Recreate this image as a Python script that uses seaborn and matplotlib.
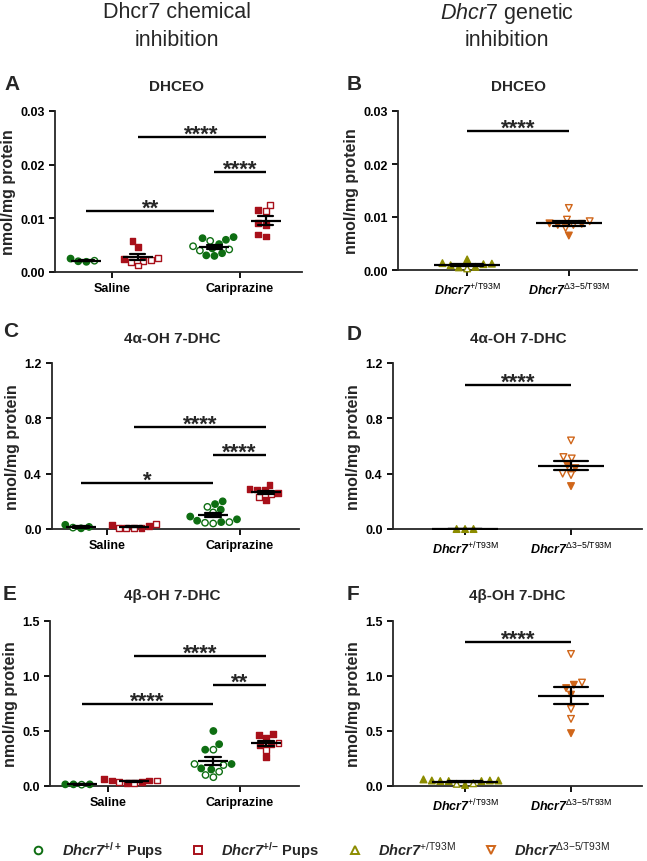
import pandas as pd
import seaborn as sns
import matplotlib.pyplot as plt
from matplotlib.lines import Line2D
from matplotlib.ticker import FormatStrFormatter

#Estilo geral
sns.set_style("ticks")
plt.rcParams['font.family'] = ['Liberation Sans', 'DejaVu Sans']
plt.rcParams['mathtext.fontset'] = 'custom'
plt.rcParams['mathtext.rm'] = 'Liberation Sans'
plt.rcParams['mathtext.it'] = 'Liberation Sans:italic'
plt.rcParams['mathtext.bf'] = 'Liberation Sans:bold'
try:
    plt.rcParams['mathtext.bfit'] = 'Liberation Sans:italic:bold'
except KeyError:
    pass
plt.rcParams['axes.linewidth'] = 1.3

VERDE = '#0e6e12'
VERMELHO = '#a8101a'
OLIVA = '#8c8c00'
LARANJA = '#d0661a'

tratamentos = ['Saline', 'Cariprazine']
pups = ['wt', 'het']
genotipos = ['T93M', 'D35']
rotulos_gen = [r'$\mathbfit{Dhcr7}^{\mathrm{+/T93M}}$',
               r'$\mathbfit{Dhcr7}^{\mathrm{\Delta 3{-}5/T93M}}$']

#Dados (cheio = simbolo preenchido, vazio = aberto)
#DHCEO - inibicao quimica
dhceo_sal_wt_cheio = [0.0019, 0.0025, 0.0020]
dhceo_sal_wt_vazio = [0.0021]
dhceo_sal_het_cheio = [0.0057, 0.0047, 0.0025]
dhceo_sal_het_vazio = [0.0021, 0.0026, 0.0012, 0.0018, 0.0022]
dhceo_car_wt_cheio = [0.0065, 0.0063, 0.0060, 0.0052, 0.0044, 0.0035, 0.0030, 0.0031]
dhceo_car_wt_vazio = [0.0058, 0.0048, 0.0042, 0.0040]
dhceo_car_het_cheio = [0.0115, 0.0091, 0.0070, 0.0066, 0.0088]
dhceo_car_het_vazio = [0.0125, 0.0114]

#DHCEO - inibicao genetica
dhceo_t93m_cheio = [0.0005, 0.0012, 0.0009, 0.0006, 0.0020, 0.0011, 0.0013]
dhceo_t93m_vazio = [0.0003]
dhceo_d35_cheio = [0.0088, 0.0065, 0.0085, 0.0087]
dhceo_d35_vazio = [0.0117, 0.0092, 0.0095, 0.0085, 0.0079]

#4a-OH 7-DHC - quimica
alfa_sal_wt_cheio = [0.030, 0.015, 0.005]
alfa_sal_wt_vazio = [0.010]
alfa_sal_het_cheio = [0.030, 0.020, 0.010]
alfa_sal_het_vazio = [0.035, 0.010, 0.005, 0.005]
alfa_car_wt_cheio = [0.20, 0.18, 0.14, 0.09, 0.07, 0.06, 0.05]
alfa_car_wt_vazio = [0.16, 0.12, 0.05, 0.04, 0.045]
alfa_car_het_cheio = [0.32, 0.29, 0.285, 0.28, 0.21, 0.26]
alfa_car_het_vazio = [0.23, 0.25]

#4a-OH 7-DHC - genetica
alfa_t93m_cheio = [0.0, 0.0, 0.0]
alfa_t93m_vazio = []
alfa_d35_cheio = [0.44, 0.46, 0.31]
alfa_d35_vazio = [0.64, 0.51, 0.52, 0.39, 0.40]

#4b-OH 7-DHC - quimica
beta_sal_wt_cheio = [0.015, 0.015, 0.015]
beta_sal_wt_vazio = [0.012]
beta_sal_het_cheio = [0.06, 0.05, 0.04, 0.05, 0.03]
beta_sal_het_vazio = [0.04, 0.03, 0.05]
beta_car_wt_cheio = [0.50, 0.38, 0.33, 0.20, 0.15, 0.16]
beta_car_wt_vazio = [0.33, 0.20, 0.19, 0.13, 0.08, 0.10]
beta_car_het_cheio = [0.46, 0.44, 0.47, 0.37, 0.26, 0.38]
beta_car_het_vazio = [0.39, 0.33]

#4b-OH 7-DHC - genetica
beta_t93m_cheio = [0.045, 0.06, 0.045, 0.05, 0.01, 0.05, 0.045, 0.05]
beta_t93m_vazio = [0.025, 0.02]
beta_d35_cheio = [0.92, 0.89, 0.83, 0.48]
beta_d35_vazio = [1.20, 0.94, 0.70, 0.61]

#Barras de significancia (x1, x2, altura, texto)
sig_dhceo_q = [(-0.2, 0.8, 0.0114, '**'), (0.2, 1.2, 0.0251, '****'), (0.8, 1.2, 0.0187, '****')]
sig_dhceo_g = [(0, 1, 0.0262, '****')]
sig_alfa_q = [(-0.2, 0.8, 0.33, '*'), (0.2, 1.2, 0.74, '****'), (0.8, 1.2, 0.535, '****')]
sig_alfa_g = [(0, 1, 1.04, '****')]
sig_beta_q = [(-0.2, 0.8, 0.743, '****'), (0.2, 1.2, 1.18, '****'), (0.8, 1.2, 0.92, '**')]
sig_beta_g = [(0, 1, 1.31, '****')]


def monta_tabela(grupos):
    linhas = []
    for x, gen, cheios, vazios in grupos:
        for v in cheios:
            linhas.append((x, gen, v, True))
        for v in vazios:
            linhas.append((x, gen, v, False))
    return pd.DataFrame(linhas, columns=['x', 'gen', 'valor', 'cheio'])


def pinta(ax, n0, sub, ordem, cor):
    #tira colecoes vazias e abre os simbolos vazios
    novos = []
    for c in list(ax.collections[n0:]):
        if len(c.get_offsets()) == 0:
            c.remove()
        else:
            novos.append(c)
    presentes = [c for c in ordem if (sub['x'] == c).any()]
    for col, cat in zip(novos, presentes):
        cheio = sub.loc[sub['x'] == cat, 'cheio'].to_numpy()
        col.set_facecolors([cor if c else 'white' for c in cheio])
        col.set_edgecolors(cor)
        col.set_linewidths(1.0)


def estrelas(ax, sig):
    for x1, x2, y, txt in sig:
        ax.plot([x1, x2], [y, y], color='black', lw=1.7, solid_capstyle='butt', clip_on=False)
        ax.annotate(txt, xy=((x1 + x2) / 2, y), xytext=(0, -2), textcoords='offset points',
                    ha='center', va='baseline', fontsize=16, fontweight='bold', annotation_clip=False)


def estilo(ax, ylim, passo, fmt, xlim, rotulos=None):
    ax.set_xlim(xlim)
    ax.set_ylim(0, ylim)
    ax.set_yticks([passo * i for i in range(4)])
    ax.yaxis.set_major_formatter(FormatStrFormatter(fmt))
    ax.set_xlabel('')
    ax.set_ylabel('nmol/mg protein', fontsize=11.5, fontweight='bold', labelpad=3)
    sns.despine(ax=ax)
    ax.tick_params(width=1.3, length=4, labelsize=9, colors='black')
    if rotulos:
        ax.set_xticks([0, 1])
        ax.set_xticklabels(rotulos)
    for t in ax.get_xticklabels() + ax.get_yticklabels():
        t.set_fontweight('bold')


def painel_quimico(ax, tab, sig, ylim, passo, fmt, xlim):
    for gen, marcador, cor, tam in [('wt', 'o', VERDE, 4.6), ('het', 's', VERMELHO, 4.2)]:
        sub = tab[tab['gen'] == gen]
        n0 = len(ax.collections)
        sns.swarmplot(data=sub, x='x', y='valor', hue='gen', hue_order=pups, order=tratamentos,
                      dodge=True, palette={'wt': cor, 'het': cor}, marker=marcador, size=tam,
                      linewidth=1.0, legend=False, ax=ax, clip_on=False, zorder=3)
        pinta(ax, n0, sub, tratamentos, cor)
    sns.pointplot(data=tab, x='x', y='valor', hue='gen', hue_order=pups, order=tratamentos,
                  dodge=0.4, palette={'wt': 'black', 'het': 'black'}, errorbar='se', capsize=0.12,
                  marker='_', markersize=22, markeredgewidth=1.6, linestyle='none',
                  err_kws={'linewidth': 1.6, 'zorder': 5}, legend=False, ax=ax, zorder=5)
    estrelas(ax, sig)
    estilo(ax, ylim, passo, fmt, xlim)


def painel_genetico(ax, tab, sig, ylim, passo, fmt, xlim):
    for gen, marcador, cor in [('T93M', '^', OLIVA), ('D35', 'v', LARANJA)]:
        sub = tab[tab['gen'] == gen]
        n0 = len(ax.collections)
        sns.swarmplot(data=sub, x='x', y='valor', order=genotipos, color=cor, marker=marcador,
                      size=4.8, linewidth=1.0, ax=ax, clip_on=False, zorder=3)
        pinta(ax, n0, sub, genotipos, cor)
    sns.pointplot(data=tab, x='x', y='valor', order=genotipos, color='black', errorbar='se',
                  capsize=0.32, marker='_', markersize=47, markeredgewidth=1.6, linestyle='none',
                  err_kws={'linewidth': 1.6, 'zorder': 5}, ax=ax, zorder=5)
    estrelas(ax, sig)
    estilo(ax, ylim, passo, fmt, xlim, rotulos_gen)


#Tabelas
tab_dhceo_q = monta_tabela([
    ('Saline', 'wt', dhceo_sal_wt_cheio, dhceo_sal_wt_vazio),
    ('Saline', 'het', dhceo_sal_het_cheio, dhceo_sal_het_vazio),
    ('Cariprazine', 'wt', dhceo_car_wt_cheio, dhceo_car_wt_vazio),
    ('Cariprazine', 'het', dhceo_car_het_cheio, dhceo_car_het_vazio)])
tab_alfa_q = monta_tabela([
    ('Saline', 'wt', alfa_sal_wt_cheio, alfa_sal_wt_vazio),
    ('Saline', 'het', alfa_sal_het_cheio, alfa_sal_het_vazio),
    ('Cariprazine', 'wt', alfa_car_wt_cheio, alfa_car_wt_vazio),
    ('Cariprazine', 'het', alfa_car_het_cheio, alfa_car_het_vazio)])
tab_beta_q = monta_tabela([
    ('Saline', 'wt', beta_sal_wt_cheio, beta_sal_wt_vazio),
    ('Saline', 'het', beta_sal_het_cheio, beta_sal_het_vazio),
    ('Cariprazine', 'wt', beta_car_wt_cheio, beta_car_wt_vazio),
    ('Cariprazine', 'het', beta_car_het_cheio, beta_car_het_vazio)])
tab_dhceo_g = monta_tabela([
    ('T93M', 'T93M', dhceo_t93m_cheio, dhceo_t93m_vazio),
    ('D35', 'D35', dhceo_d35_cheio, dhceo_d35_vazio)])
tab_alfa_g = monta_tabela([
    ('T93M', 'T93M', alfa_t93m_cheio, alfa_t93m_vazio),
    ('D35', 'D35', alfa_d35_cheio, alfa_d35_vazio)])
tab_beta_g = monta_tabela([
    ('T93M', 'T93M', beta_t93m_cheio, beta_t93m_vazio),
    ('D35', 'D35', beta_d35_cheio, beta_d35_vazio)])

#Figura (posicoes em pixels)
W, H = 647, 862
fig = plt.figure(figsize=(W / 100, H / 100), dpi=100)


def eixo(esq, dir, topo, base):
    return fig.add_axes([esq / W, 1 - base / H, (dir - esq) / W, (base - topo) / H])


ax_a = eixo(55, 302, 112, 273)
ax_b = eixo(398, 637, 112, 271)
ax_c = eixo(52, 299, 364, 530)
ax_d = eixo(393, 642, 364, 530)
ax_e = eixo(50, 299, 622, 787)
ax_f = eixo(393, 642, 622, 787)

painel_quimico(ax_a, tab_dhceo_q, sig_dhceo_q, 0.03, 0.01, '%.2f', (-0.445, 1.484))
painel_genetico(ax_b, tab_dhceo_g, sig_dhceo_g, 0.03, 0.01, '%.2f', (-0.68, 1.67))
painel_quimico(ax_c, tab_alfa_q, sig_alfa_q, 1.2, 0.4, '%.1f', (-0.42, 1.45))
painel_genetico(ax_d, tab_alfa_g, sig_alfa_g, 1.2, 0.4, '%.1f', (-0.68, 1.67))
painel_quimico(ax_e, tab_beta_q, sig_beta_q, 1.5, 0.5, '%.1f', (-0.44, 1.45))
painel_genetico(ax_f, tab_beta_g, sig_beta_g, 1.5, 0.5, '%.1f', (-0.68, 1.67))

#Titulos e letras
def txt(x, y, s, **kw):
    fig.text(x / W, 1 - y / H, s, **kw)


for letra, x, y in [('A', 4, 84), ('B', 347, 84), ('C', 3, 332), ('D', 347, 334), ('E', 3, 594), ('F', 347, 594)]:
    txt(x, y, letra, fontsize=15, fontweight='bold', va='center', ha='left')
for titulo, x, y in [('DHCEO', 176, 87), ('DHCEO', 518, 87), ('4α-OH 7-DHC', 172, 339),
                     ('4α-OH 7-DHC', 518, 339), ('4β-OH 7-DHC', 172, 596), ('4β-OH 7-DHC', 517, 596)]:
    txt(x, y, titulo, fontsize=11, fontweight='bold', va='center', ha='center')

txt(177, 13, 'Dhcr7 chemical', fontsize=15.5, va='center', ha='center')
txt(177, 41, 'inhibition', fontsize=15.5, va='center', ha='center')
txt(507, 13, r'$\mathit{Dhcr7}$ genetic', fontsize=15.5, va='center', ha='center')
txt(507, 41, 'inhibition', fontsize=15.5, va='center', ha='center')

#Legenda
alcas = [Line2D([], [], marker=m, linestyle='none', markerfacecolor='white', markeredgecolor=c,
                markersize=5.5, markeredgewidth=1.4)
         for m, c in [('o', VERDE), ('s', VERMELHO), ('^', OLIVA), ('v', LARANJA)]]
rotulos_leg = [r'$\mathbfit{Dhcr7}^{\mathbf{+/+}}$ Pups', r'$\mathbfit{Dhcr7}^{\mathbf{+/{-}}}$ Pups',
               rotulos_gen[0], rotulos_gen[1]]
fig.legend(alcas, rotulos_leg, loc='center left', bbox_to_anchor=(31 / W, 1 - 851 / H), ncol=4,
           frameon=False, prop={'weight': 'bold', 'size': 10.5}, handletextpad=1.1,
           columnspacing=1.9, handlelength=1.0, borderpad=0, borderaxespad=0)

fig.savefig('out.png', dpi=100)
